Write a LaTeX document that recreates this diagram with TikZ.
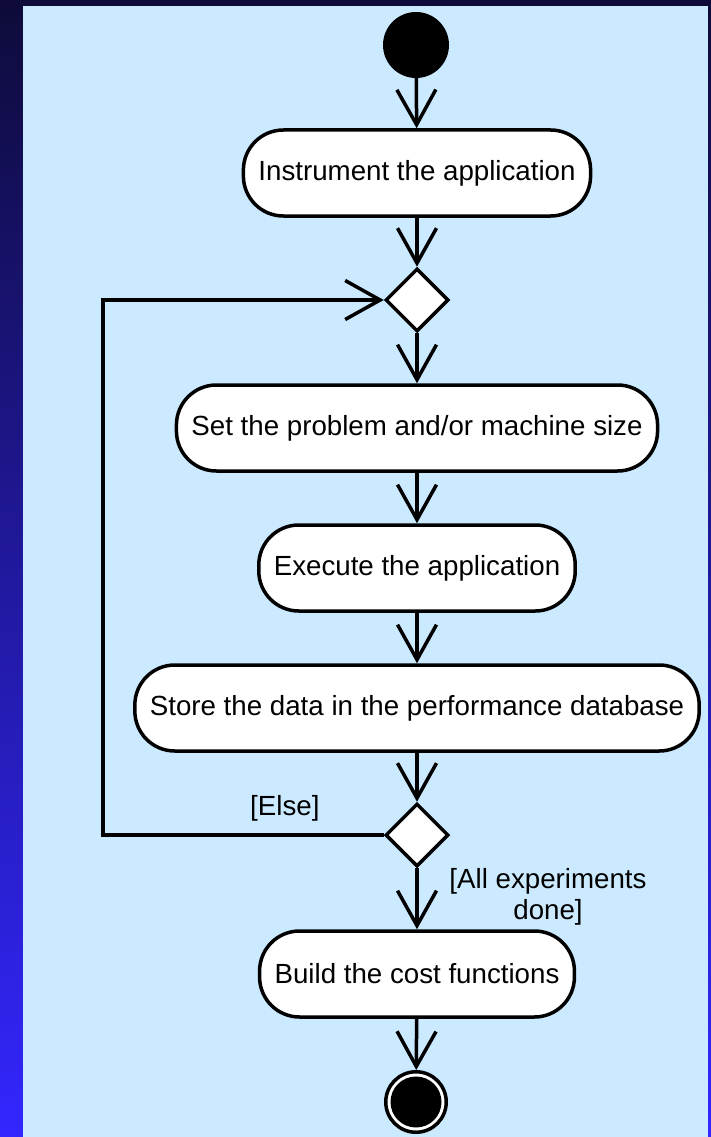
\documentclass[tikz,border=0pt]{standalone}
\usepackage{fontspec}
\setmainfont{Liberation Sans}
\usetikzlibrary{arrows.meta,shapes.geometric}

\definecolor{navytop}{RGB}{14,11,58}
\definecolor{navybot}{RGB}{51,38,255}
\definecolor{paper}{RGB}{204,234,255}

\tikzset{
  x=1pt, y=-1pt,
  every node/.style={font=\fontsize{27.7pt}{33pt}\selectfont},
  activity/.style={rectangle, draw=black, fill=white, line width=3.5pt,
    rounded corners=40pt, minimum height=86pt, inner xsep=15pt, inner ysep=0pt},
  choice/.style={diamond, aspect=1, draw=black, fill=white, line width=3.5pt,
    minimum width=63pt, minimum height=63pt, inner sep=0pt},
  startdot/.style={circle, fill=black, minimum size=66pt, inner sep=0pt},
  enddot/.style={circle, draw=black, fill=white, line width=3.5pt,
    minimum size=60.5pt, inner sep=0pt,
    path picture={\fill[black] (path picture bounding box.center) circle (25.5pt);}},
  flow/.style={draw=black, line width=3.5pt,
    -{Straight Barb[length=35pt,width=39pt]}},
  guard/.style={inner sep=0pt, text=black},
}

\begin{document}
\begin{tikzpicture}
  % frame: shaded band behind the pale drawing area
  \useasboundingbox (0,0) rectangle (711,1137);
  \shade[top color=navytop, bottom color=navybot] (0,0) rectangle (711,1137);
  \fill[paper] (23,6) rectangle (708,1137);

  % activity nodes
  \node[startdot] (start) at (416,45) {};
  \node[activity] (instr) at (417,173) {Instrument the application};
  \node[choice]   (merge) at (417,300) {};
  \node[activity] (setup) at (417,428) {Set the problem and/or machine size};
  \node[activity] (exec)  at (417,568) {Execute the application};
  \node[activity] (store) at (417,708) {Store the data in the performance database};
  \node[choice]   (test)  at (417,835) {};
  \node[activity] (build) at (417,974) {Build the cost functions};
  \node[enddot]   (stop)  at (416,1102) {};

  \coordinate (loop) at (103,300);

  % control flow
  \draw[flow] (start) -- (instr);
  \draw[flow] (instr) -- (merge);
  \draw[flow] (merge) -- (setup);
  \draw[flow] (setup) -- (exec);
  \draw[flow] (exec)  -- (store);
  \draw[flow] (store) -- (test);
  \draw[flow] (test)  -- (build);
  \draw[flow] (build) -- (stop);
  \draw[flow] (test.west) -| (loop) -- (merge.west);

  % guards
  \node[guard, anchor=base west] (gelse) at (250,815) {[Else]};
  \node[guard, anchor=base] (gdone1) at (548,888) {[All experiments};
  \node[guard, anchor=base] (gdone2) at (548,919) {done]};
\end{tikzpicture}
\end{document}
